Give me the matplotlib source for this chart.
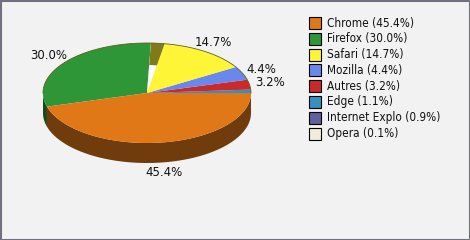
import numpy as np
import matplotlib
matplotlib.use('Agg')
import matplotlib.pyplot as plt
from matplotlib.patches import Polygon, Rectangle
from matplotlib.colors import to_rgb

# legend order
names = ['Chrome', 'Firefox', 'Safari', 'Mozilla', 'Autres', 'Edge', 'Internet Explo', 'Opera']
shares = [45.4, 30.0, 14.7, 4.4, 3.2, 1.1, 0.9, 0.1]
colors = ['#e07818', '#2e9636', '#fdf535', '#6888ee', '#cc2a2a', '#3490c0', '#60609a', '#f0ecd8']
# order of the slices counter-clockwise from 3 o'clock
pie_order = ['Edge', 'Autres', 'Mozilla', 'Safari', 'Internet Explo', 'Opera', 'Firefox', 'Chrome']

plt.rcParams['font.family'] = ['DejaVu Sans']

fig = plt.figure(figsize=(4.7, 2.4), dpi=100)
fig.patch.set_facecolor('#f2f2f2')
ax = fig.add_axes([0, 0, 1, 1])
ax.set_xlim(0, 470)
ax.set_ylim(240, 0)
ax.axis('off')

cx, cy, rx, ry, depth = 147, 93, 104, 50, 20

def arc(t0, t1, dy=0):
    t = np.radians(np.linspace(t0, t1, max(int(abs(t1 - t0)) * 2, 2)))
    return np.column_stack([cx + rx * np.cos(t), cy - ry * np.sin(t) + dy])

def dark(c, f=0.5):
    return tuple(v * f for v in to_rgb(c))

total = 100.0
col = dict(zip(names, colors))
val = dict(zip(names, shares))
starts = {}
a = 0.0
for n in pie_order:
    starts[n] = (a, a + val[n] / total * 360)
    a += val[n] / total * 360
# the last slice closes the circle
starts['Chrome'] = (starts['Chrome'][0], 360.0)

# side walls (front half only)
for n in pie_order:
    t0, t1 = starts[n]
    s0, s1 = max(t0, 180), min(t1, 360)
    if s1 <= s0:
        continue
    top = arc(s0, s1)
    bot = arc(s1, s0, depth)
    ax.add_patch(Polygon(np.vstack([top, bot]), closed=True, fc=dark(col[n]), ec='none'))

# top faces
for n in pie_order:
    t0, t1 = starts[n]
    pts = np.vstack([[cx, cy], arc(t0, t1)])
    ax.add_patch(Polygon(pts, closed=True, fc=col[n], ec='none'))

# rendering glitch between Safari and Firefox seen on the original
g0, g1 = starts['Safari'][1] - 4, starts['Firefox'][0]
ax.add_patch(Polygon(np.vstack([[cx, cy], arc(g0, g1)]), closed=True, fc='white', ec='none'))
outer = arc(g0, g1)
inner = np.column_stack([cx + (outer[:, 0] - cx) * 0.56, cy + (outer[:, 1] - cy) * 0.56])[::-1]
ax.add_patch(Polygon(np.vstack([outer, inner]), closed=True, fc=dark(col['Safari']), ec='none'))

# outline of the top ellipse rim
ax.plot(*arc(0, 180).T, color='#606020', lw=0.6)

# percentage labels
for n in pie_order:
    if val[n] < 3:
        continue
    t0, t1 = starts[n]
    m = np.radians((t0 + t1) / 2)
    x = cx + rx * 1.2 * np.cos(m)
    y = cy - ry * 1.2 * np.sin(m)
    if np.sin(m) < 0:
        y += depth
    ax.text(x, y, f'{val[n]:.1f}%', ha='center', va='center', fontsize=8.5, color='#111111')

# legend
for i, n in enumerate(names):
    y = 23 + i * 15.8
    ax.add_patch(Rectangle((309, y - 6), 12, 12, fc=col[n], ec='black', lw=0.8))
    ax.text(327, y, f'{n} ({val[n]:.1f}%)', ha='left', va='center', fontsize=8.5,
            fontstretch='condensed', color='#111111')

# outer frame
ax.add_patch(Rectangle((0.5, 0.5), 469, 239, fill=False, ec='#70707f', lw=1.5))

fig.savefig('out.png', dpi=100, facecolor=fig.get_facecolor())
